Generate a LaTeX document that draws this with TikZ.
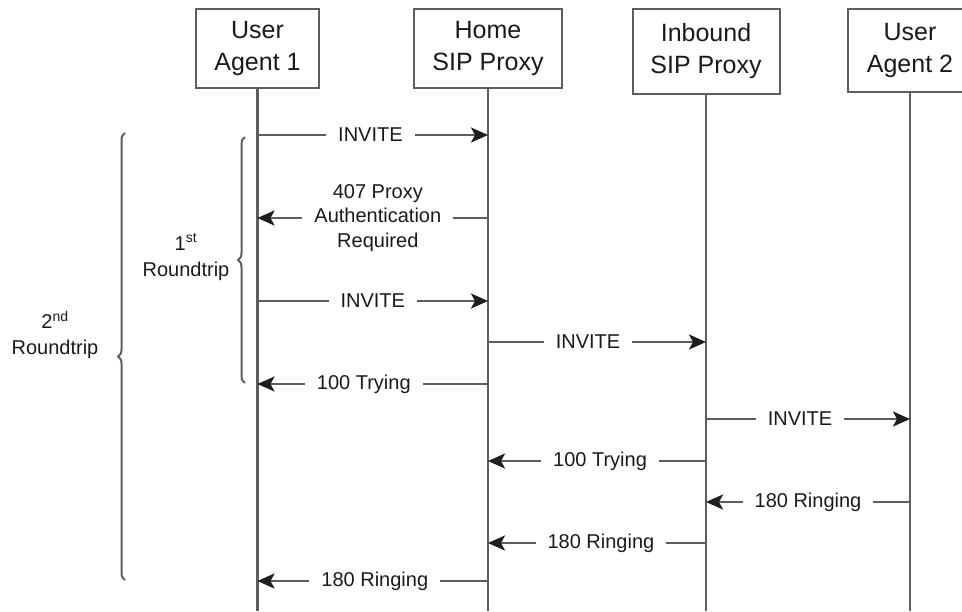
\documentclass[tikz,border=0pt]{standalone}
\usepackage{fontspec}
\setmainfont{Liberation Sans}
\usetikzlibrary{arrows.meta,decorations.pathreplacing}
\definecolor{linegray}{HTML}{5E5E5E}
\definecolor{txt}{HTML}{1A1A1A}
\definecolor{tipc}{HTML}{1E1E1E}
\tikzset{
 actor/.style={draw=linegray, line width=2pt, fill=white, text=txt, font=\fontsize{25}{32}\selectfont, align=center, inner sep=0pt},
 life/.style={draw=linegray, line width=2.6pt},
 msg/.style={draw=linegray, line width=2.6pt, -{Stealth[length=17pt,width=15pt,inset=4pt,color=tipc]}},
 lbl/.style={fill=white, text=txt, font=\fontsize{20}{24.5}\selectfont, inner xsep=12pt, inner ysep=1pt, align=center},
 brc/.style={draw=linegray, line width=2pt, decorate, decoration={brace, amplitude=7pt}},
 side/.style={text=txt, font=\fontsize{20}{26}\selectfont, align=center},
}
\begin{document}
\begin{tikzpicture}[x=1pt,y=-1pt]
\fill[white] (0,0) rectangle (962,611);
\useasboundingbox (0,0) rectangle (962,611);
\clip (0,0) rectangle (962,611);
% lifeline bottoms
\coordinate (l1) at (257.5,611);
\coordinate (l2) at (488,611);
\coordinate (l3) at (706,611);
\coordinate (l4) at (910,611);
% actors
\node[actor, minimum width=123pt, minimum height=79pt] (ua1) at (257.5,48.5) {User\\Agent 1};
\node[actor, minimum width=148pt, minimum height=79pt] (hp) at (488,48.5) {Home\\SIP Proxy};
\node[actor, minimum width=147pt, minimum height=85pt] (ip) at (706,51.5) {Inbound\\SIP Proxy};
\node[actor, minimum width=124pt, minimum height=83pt] (ua2) at (910,50.5) {User\\Agent 2};
\draw[life] (ua1.south) -- (l1);
\draw[life] (hp.south) -- (l2);
\draw[life] (ip.south) -- (l3);
\draw[life] (ua2.south) -- (l4);
% message end points
\coordinate (m1a) at (257.5,135); \coordinate (m1b) at (488,135);
\coordinate (m2a) at (488,218);   \coordinate (m2b) at (257.5,218);
\coordinate (m3a) at (257.5,301); \coordinate (m3b) at (488,301);
\coordinate (m4a) at (488,342);   \coordinate (m4b) at (706,342);
\coordinate (m5a) at (488,384);   \coordinate (m5b) at (257.5,384);
\coordinate (m6a) at (706,419);   \coordinate (m6b) at (910,419);
\coordinate (m7a) at (706,461);   \coordinate (m7b) at (488,461);
\coordinate (m8a) at (910,502);   \coordinate (m8b) at (706,502);
\coordinate (m9a) at (706,543);   \coordinate (m9b) at (488,543);
\coordinate (m10a) at (488,581);  \coordinate (m10b) at (257.5,581);
% messages
\draw[msg] (m1a) -- node[lbl,pos=.49] (t1) {INVITE} (m1b);
\draw[msg] (m2a) -- node[lbl,pos=.478] (t2) {407 Proxy\\Authentication\\Required} (m2b);
\draw[msg] (m3a) -- node[lbl,pos=.5] (t3) {INVITE} (m3b);
\draw[msg] (m4a) -- node[lbl,pos=.459] (t4) {INVITE} (m4b);
\draw[msg] (m5a) -- node[lbl,pos=.539] (t5) {100 Trying} (m5b);
\draw[msg] (m6a) -- node[lbl,pos=.461] (t6) {INVITE} (m6b);
\draw[msg] (m7a) -- node[lbl,pos=.486] (t7) {100 Trying} (m7b);
\draw[msg] (m8a) -- node[lbl,pos=.5] (t8) {180 Ringing} (m8b);
\draw[msg] (m9a) -- node[lbl,pos=.482] (t9) {180 Ringing} (m9b);
\draw[msg] (m10a) -- node[lbl,pos=.491] (t10) {180 Ringing} (m10b);
% braces
\coordinate (b1s) at (245,383); \coordinate (b1e) at (245,137);
\coordinate (b2s) at (125,580); \coordinate (b2e) at (125,133);
\draw[brc] (b1s) -- (b1e);
\draw[brc] (b2s) -- (b2e);
\node[side] (r1) at (186,257) {1\textsuperscript{st}\\Roundtrip};
\node[side] (r2) at (55,335) {2\textsuperscript{nd}\\Roundtrip};
\end{tikzpicture}
\end{document}
